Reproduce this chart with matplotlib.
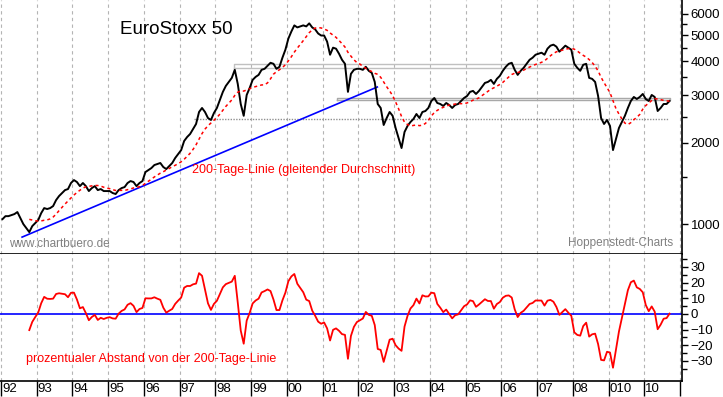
import numpy as np
import pandas as pd
import matplotlib
matplotlib.use('Agg')
import matplotlib.pyplot as plt
from matplotlib.ticker import FixedLocator, NullFormatter, FixedFormatter
from matplotlib.transforms import ScaledTranslation

plt.rcParams['font.family'] = ['Liberation Sans', 'DejaVu Sans']

# ---------------- data ----------------
start_year = 1992
# monthly EuroStoxx 50 levels (Jan 1992 .. Sep 2010)
index_values = [
    1043, 1070, 1070, 1079, 1089, 1108, 1052, 1000, 967, 934, 983, 1009,      # 1992
    1035, 1098, 1146, 1137, 1146, 1166, 1227, 1270, 1303, 1336, 1348, 1419,   # 1993
    1455, 1431, 1382, 1419, 1382, 1325, 1359, 1382, 1336, 1348, 1325, 1325,   # 1994
    1325, 1303, 1292, 1336, 1359, 1371, 1419, 1443, 1431, 1382, 1419, 1443,   # 1995
    1558, 1584, 1612, 1654, 1668, 1683, 1626, 1598, 1640, 1683, 1757, 1817,   # 1996
    1879, 2030, 2100, 2155, 2249, 2347, 2599, 2690, 2599, 2469, 2428, 2577,   # 1997
    2690, 2880, 3085, 3246, 3358, 3476, 3723, 3302, 2783, 2516, 3005, 3190,   # 1998
    3417, 3505, 3566, 3723, 3755, 3853, 3953, 3919, 3755, 3820, 4127, 4420,   # 1999
    4860, 5160, 5437, 5344, 5390, 5437, 5390, 5531, 5344, 5253, 5074, 4987,   # 2000
    4987, 4735, 4234, 4497, 4458, 4271, 4056, 3919, 3085, 3597, 3723, 3755,   # 2001
    3755, 3723, 3820, 3691, 3628, 3358, 2783, 2690, 2327, 2469, 2599, 2516,   # 2002
    2268, 2082, 1912, 2192, 2307, 2387, 2449, 2555, 2469, 2599, 2621, 2690,   # 2003
    2855, 2929, 2806, 2783, 2736, 2806, 2759, 2690, 2759, 2783, 2855, 2929,   # 2004
    2979, 3085, 3111, 3031, 3111, 3218, 3330, 3358, 3417, 3302, 3447, 3536,   # 2005
    3691, 3820, 3919, 3953, 3723, 3566, 3691, 3788, 3919, 4056, 4127, 4234,   # 2006
    4271, 4308, 4234, 4458, 4574, 4614, 4535, 4345, 4458, 4574, 4497, 4420,   # 2007
    3919, 3788, 3691, 3886, 3919, 3476, 3447, 3358, 2979, 2469, 2347, 2428,   # 2008
    2307, 1879, 2064, 2268, 2387, 2516, 2690, 2855, 2954, 2904, 2954, 3031,   # 2009
    2904, 2855, 3005, 2954, 2621, 2690, 2783, 2783, 2855,                     # 2010
]
ma_window = 10  # ~200 trading days in months

years = list(range(1992, 2012))
year_labels = ['92', '93', '94', '95', '96', '97', '98', '99', '00', '01',
               '02', '03', '04', '05', '06', '07', '08', '010', '10', '']
price_ticks = [1000, 2000, 3000, 4000, 5000, 6000]
price_minor = [1500, 2500, 3500, 4500, 5500]
osc_ticks = [-30, -20, -10, 0, 10, 20, 30]
osc_minor = [-35, -25, -15, -5, 5, 15, 25, 35]

# support / resistance marks (start year, end year, low, high)
box_upper = (1998.52, 2008.70, 3780, 3900)
box_mid = (2001.40, 2010.72, 2880, 2925)
line_low = (1997.40, 2010.69, 2448)
trend_t = [1992.59, 2002.53]
trend_v = [895, 3216]

# ---------------- computations ----------------
prices = pd.Series(index_values, dtype=float)
t = start_year + (np.arange(len(prices)) + 0.5) / 12.0
ma = prices.rolling(ma_window).mean()
osc = (prices / ma - 1.0) * 100.0

# ---------------- figure ----------------
W, H = 723, 397
fig = plt.figure(figsize=(W / 100, H / 100), dpi=100)
ax_w = 682 / W
ax1 = fig.add_axes([0, (H - 254) / H, ax_w, 254 / H])
ax2 = fig.add_axes([0, (H - 381) / H, ax_w, 127 / H])

px_per_year = 679 / 19.0
xmin = 1992 - 1 / px_per_year
xmax = 1992 + 681 / px_per_year
PT = 72 / 100  # points per pixel

grid_kw = dict(color='#b4b4b4', lw=0.8, ls=(0, (3, 3)), zorder=0)
for ax in (ax1, ax2):
    for y in years:
        ax.axvline(y, **grid_kw)
    ax.set_xlim(xmin, xmax)
    for s in ('left', 'top'):
        ax.spines[s].set_visible(False)
    ax.spines['right'].set_linewidth(1.2)
    ax.spines['bottom'].set_linewidth(1.2)
    ax.yaxis.tick_right()
    ax.tick_params(axis='y', which='major', direction='out', length=6 * PT, width=1,
                   labelsize=9.5, pad=2)
    ax.tick_params(axis='y', which='minor', direction='out', length=5 * PT, width=1)

# ---- top panel ----
ax1.set_yscale('log')
ax1.set_ylim(775, 6750)
ax1.yaxis.set_major_locator(FixedLocator(price_ticks))
ax1.yaxis.set_major_formatter(FixedFormatter([str(v) for v in price_ticks]))
ax1.yaxis.set_minor_locator(FixedLocator(price_minor))
ax1.yaxis.set_minor_formatter(NullFormatter())
ax1.set_xticks([])

# support boxes
for (x0, x1, lo, hi), col in ((box_upper, '#c0c0c0'), (box_mid, '#a8a8a8')):
    ax1.plot([x0, x1, x1, x0, x0], [lo, lo, hi, hi, lo], color=col, lw=1.0, zorder=1)
ax1.hlines(line_low[2], line_low[0], line_low[1], color='#909090', lw=1.0,
           linestyles=(0, (1, 1)), zorder=1)

ax1.plot(trend_t, trend_v, color='#0000ff', lw=1.2, zorder=2)
ax1.plot(t, prices, color='black', lw=1.4, zorder=3)
ax1.plot(t, ma, color='#ff0000', lw=1.1, ls=(0, (2, 2)), zorder=4)

ax1.text(120 / 682, 1 - 30 / 254, 'EuroStoxx 50', transform=ax1.transAxes,
         fontsize=13.5, va='center', ha='left', color='black')
ax1.text(192 / 682, 1 - 170 / 254, '200-Tage-Linie (gleitender Durchschnitt)',
         transform=ax1.transAxes, fontsize=9, va='center', ha='left', color='#ff0000')
ax1.text(9 / 682, 1 - 244 / 254, 'www.chartbuero.de', transform=ax1.transAxes,
         fontsize=8.5, va='center', ha='left', color='#808080')
ax1.text(673 / 682, 1 - 243 / 254, 'Hoppenstedt-Charts', transform=ax1.transAxes,
         fontsize=8.5, va='center', ha='right', color='#808080')

# ---- bottom panel ----
ax2.set_ylim(-42.8, 38.3)
ax2.yaxis.set_major_locator(FixedLocator(osc_ticks))
ax2.yaxis.set_minor_locator(FixedLocator(osc_minor))
ax2.axhline(0, color='#0000ff', lw=1.2, zorder=2)
ax2.plot(t, osc, color='#ff0000', lw=1.3, zorder=3)
ax2.text(26 / 682, 22 / 127, 'prozentualer Abstand von der 200-Tage-Linie',
         transform=ax2.transAxes, fontsize=9, va='center', ha='left', color='#ff0000')

ax2.set_xticks(years)
ax2.set_xticklabels(year_labels)
ax2.tick_params(axis='x', direction='out', length=15 * PT, width=1, labelsize=9.5,
                pad=-13 * PT)
off = ScaledTranslation(1 / 100, 0, fig.dpi_scale_trans)
for lab in ax2.get_xticklabels():
    lab.set_horizontalalignment('left')
    lab.set_verticalalignment('top')
    lab.set_transform(lab.get_transform() + off)

fig.savefig('out.png', dpi=100, facecolor='white')
